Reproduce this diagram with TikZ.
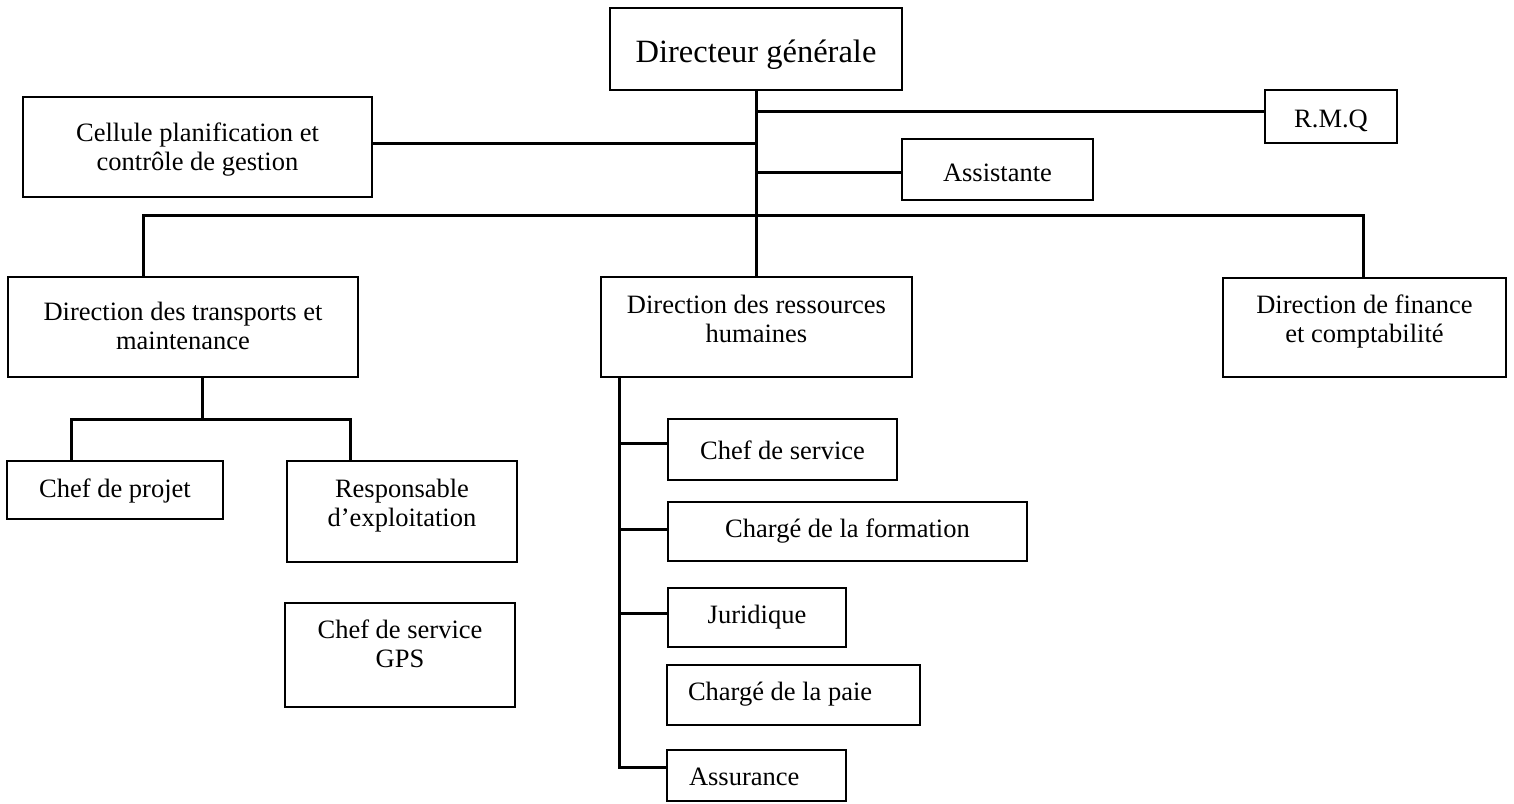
\documentclass[tikz,border=0pt]{standalone}
\usepackage{fontspec}
\setmainfont{Liberation Serif}
% box content: width, height, first-baseline offset, text (centred lines)
\newcommand{\bx}[4]{\parbox[c][#2pt][t]{#1pt}{\centering\rule{0pt}{#3pt}#4}}
% box content with left-aligned text: width, height, baseline offset, left pad, text
\newcommand{\bxl}[5]{\parbox[c][#2pt][t]{#1pt}{\raggedright\rule{0pt}{#3pt}\hspace*{#4pt}#5}}

\begin{document}
\begin{tikzpicture}[x=1pt,y=-1pt,
  unit/.style={draw=black, line width=2pt, anchor=north west,
    inner sep=0pt, outer sep=0pt, font=\fontsize{26.5}{29.5}\selectfont},
  link/.style={draw=black, line width=3pt}]
\useasboundingbox (0,0) rectangle (1514,803);

% top management
\node[unit, font=\fontsize{32.5}{38}\selectfont] (dir) at (610,8) {\bx{292}{82}{54}{Directeur générale}};
\node[unit] (rmq)  at (1265,90)  {\bx{132}{53}{37}{R.M.Q}};
\node[unit] (cell) at (23,97)    {\bx{349}{100}{44}{Cellule planification et\\contrôle de gestion}};
\node[unit] (asst) at (902,139)  {\bx{191}{61}{42}{Assistante}};

% directions
\node[unit] (trans) at (8,277)    {\bx{350}{100}{43}{Direction des transports et\\maintenance}};
\node[unit] (drh)   at (601,277)  {\bx{311}{100}{36}{Direction des ressources\\humaines}};
\node[unit] (fin)   at (1223,278) {\bx{283}{99}{35}{Direction de finance\\et comptabilité}};

% transports and maintenance
\node[unit] (proj) at (7,461)   {\bx{216}{58}{36}{Chef de projet}};
\node[unit] (resp) at (287,461) {\bx{230}{101}{36}{Responsable\\d’exploitation}};
\node[unit] (gps)  at (285,603) {\bx{230}{104}{35}{Chef de service\\GPS}};

% human resources
\node[unit] (cs)   at (668,419) {\bx{229}{61}{40}{Chef de service}};
\node[unit] (form) at (668,502) {\bx{359}{59}{35}{Chargé de la formation}};
\node[unit] (jur)  at (668,588) {\bx{178}{59}{35}{Juridique}};
\node[unit] (paie) at (667,665) {\bxl{253}{60}{35}{21}{Chargé de la paie}};
\node[unit] (assu) at (667,750) {\bxl{179}{51}{35}{22}{Assurance}};

% junction points
\coordinate (jR) at (dir.south |- 0,111);
\coordinate (jC) at (dir.south |- 0,143);
\coordinate (jA) at (dir.south |- 0,172);
\coordinate (bL) at (143,215);
\coordinate (bR) at (1363,215);
\coordinate (tM) at (202,419);
\coordinate (tL) at (71,419);
\coordinate (tR) at (350,419);
\coordinate (r1) at (619,443);
\coordinate (r2) at (619,529);
\coordinate (r3) at (619,613);
\coordinate (rB) at (619,767);

% general management links
\draw[link] (dir.south) -- (dir.south |- drh.north);
\draw[link] (jR) -- (jR -| rmq.west);
\draw[link] (cell.east |- jC) -- (jC);
\draw[link] (jA) -- (jA -| asst.west);
\draw[link] (bL |- trans.north) -- (bL) -- (bR) -- (bR |- fin.north);

% transports and maintenance links
\draw[link] (tM |- trans.south) -- (tM);
\draw[link] (tL |- proj.north) -- (tL) -- (tR) -- (tR |- resp.north);

% human resources links
\draw[link] (rB |- drh.south) -- (rB) -- (rB -| assu.west);
\draw[link] (r1) -- (r1 -| cs.west);
\draw[link] (r2) -- (r2 -| form.west);
\draw[link] (r3) -- (r3 -| jur.west);
\end{tikzpicture}
\end{document}
